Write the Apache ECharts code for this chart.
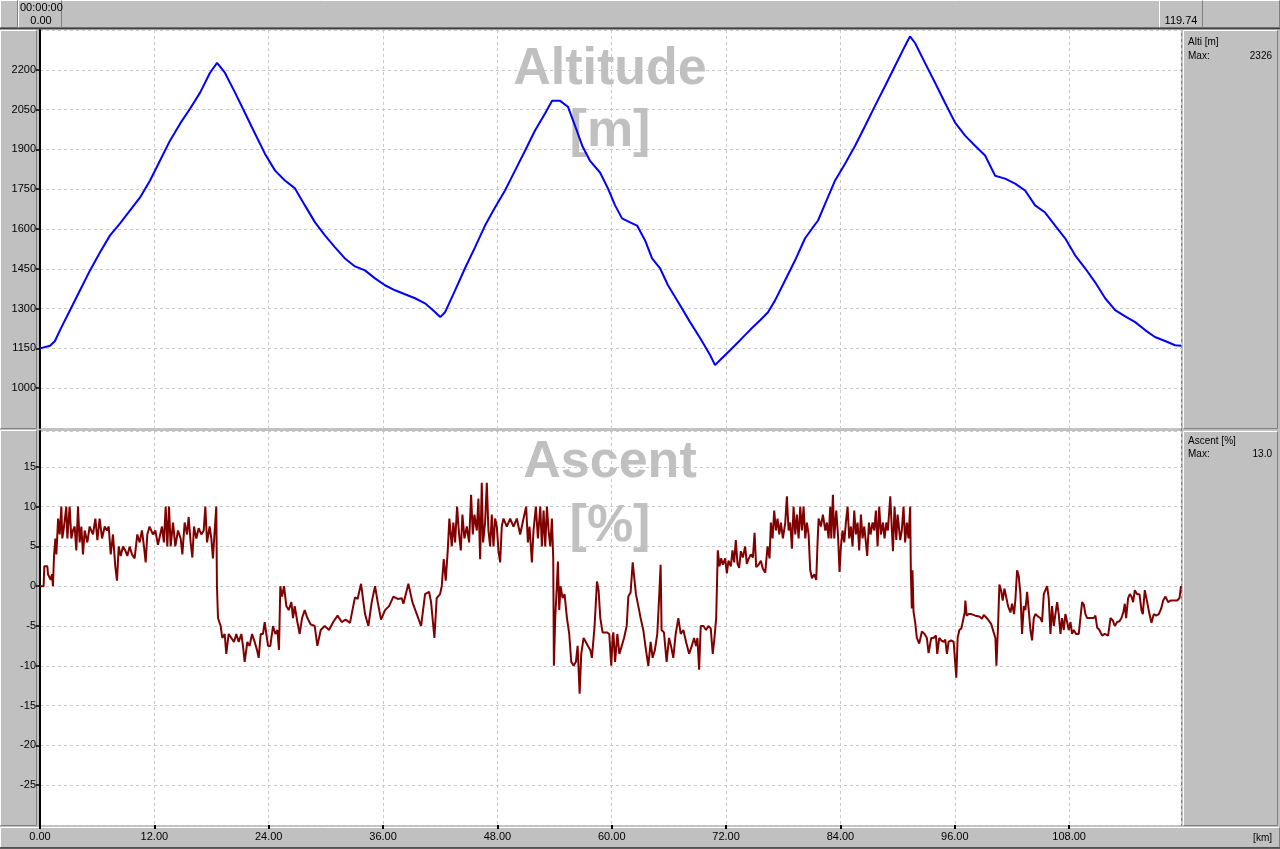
<!DOCTYPE html>
<html><head><meta charset="utf-8">
<script src="https://cdn.jsdelivr.net/npm/echarts/dist/echarts.min.js"></script>
<style>html,body{margin:0;padding:0;background:#c0c0c0;overflow:hidden}#chart{width:1280px;height:849px}</style>
</head><body><div id="chart"></div>
<script>
// ---- data (distance km, value) ----
const altitudePoints = [
[0,1150],[1.05,1160],[1.57,1178],[2.1,1219],[3.15,1294],[4.2,1369],[5.25,1444],[6.3,1512],[7.35,1576],[8.4,1621],[9.45,1670],[10.5,1719],[11.55,1783],[12.6,1858],[13.64,1933],[14.7,1997],[15.74,2053],[16.8,2114],[17.84,2189],[18.58,2226],[19.4,2189],[20.47,2114],[21.5,2038],[22.57,1959],[23.6,1884],[24.67,1820],[25.7,1783],[26.76,1753],[27.8,1689],[28.86,1625],[29.9,1576],[30.96,1531],[32.0,1489],[33.06,1459],[34.1,1444],[35.16,1414],[36.2,1388],[37.26,1369],[38.3,1354],[39.36,1339],[40.4,1320],[41.25,1294],[42.0,1268],[42.5,1286],[43.56,1369],[44.6,1452],[45.65,1531],[46.7,1613],[47.75,1681],[48.8,1745],[49.85,1820],[50.9,1895],[51.95,1971],[53.0,2035],[53.74,2083],[54.58,2083],[55.4,2061],[56.15,1989],[56.9,1914],[57.7,1858],[58.77,1813],[59.6,1753],[60.35,1689],[61.08,1640],[61.92,1625],[62.66,1613],[63.5,1557],[64.23,1489],[65.07,1452],[65.9,1388],[67.17,1313],[68.22,1249],[69.27,1189],[70.32,1125],[70.84,1087],[71.37,1106],[72.42,1143],[73.47,1181],[74.5,1219],[75.57,1256],[76.4,1286],[77.14,1331],[78.2,1407],[79.24,1482],[80.29,1565],[81.03,1602],[81.65,1632],[82.4,1696],[83.44,1783],[84.5,1847],[85.54,1914],[86.6,1989],[87.64,2065],[88.7,2140],[89.74,2215],[90.78,2290],[91.3,2326],[91.83,2301],[92.87,2226],[93.93,2151],[94.97,2076],[96.03,2001],[97.08,1952],[98.13,1914],[99.18,1877],[100.23,1801],[101.28,1790],[102.33,1771],[103.38,1745],[104.43,1689],[105.48,1662],[106.53,1613],[107.58,1565],[108.63,1501],[109.68,1452],[110.73,1399],[111.78,1339],[112.83,1294],[113.88,1271],[114.93,1249],[115.97,1219],[117.0,1193],[118.07,1178],[119.12,1162],[119.74,1160]
];
const ascentPoints = [
[0,0],[0.38,0],[0.45,2.5],[0.77,2.5],[0.84,1.5],[1.0,1.6],[1.12,0.8],[1.26,1.5],[1.36,0],[1.47,3.8],[1.61,6],[1.72,4],[1.9,8.5],[2.07,6.5],[2.24,10],[2.34,6],[2.52,7.5],[2.76,10],[2.87,6],[3.11,10],[3.29,6],[3.46,7],[3.64,7.5],[3.81,4.5],[3.99,10],[4.16,5.5],[4.34,7.5],[4.51,4],[4.69,7],[4.97,5.5],[5.21,7.5],[5.56,6.5],[5.81,8.5],[6.02,5.8],[6.26,8.5],[6.51,6],[6.79,7.5],[7.03,7],[7.21,7.5],[7.42,4],[7.66,6.5],[7.9,2.5],[8.08,0.7],[8.26,5],[8.47,3.8],[8.71,5],[8.95,4.5],[9.16,3.8],[9.41,5],[9.65,4],[9.93,3.5],[10.21,6.5],[10.46,5.5],[10.7,7],[10.91,5],[11.09,3],[11.26,6.5],[11.5,7.5],[11.85,6.5],[12.1,7],[12.38,5.2],[12.56,5],[12.8,7.5],[13.0,5.5],[13.19,10],[13.36,5],[13.54,10],[13.71,5],[13.96,8],[14.2,5],[14.48,7],[14.76,6],[14.94,4],[15.18,8],[15.43,6.5],[15.6,8.7],[15.81,5.5],[15.99,3.6],[16.16,7.5],[16.41,6],[16.65,7.3],[16.93,6.5],[17.18,7],[17.35,10],[17.53,5.5],[17.8,7.5],[17.98,6],[18.15,3.5],[18.33,7],[18.5,10],[18.57,0],[18.68,-4],[18.96,-5],[19.13,-6.5],[19.38,-6],[19.55,-8.5],[19.8,-6],[20.08,-6.5],[20.36,-7],[20.6,-6],[20.85,-7],[21.13,-6],[21.3,-7.5],[21.48,-9.5],[21.76,-7],[22.0,-7.5],[22.25,-6],[22.53,-7],[22.77,-8],[22.95,-9],[23.16,-6],[23.4,-6],[23.58,-4.5],[23.75,-6],[23.93,-7.5],[24.17,-7.5],[24.45,-5],[24.7,-6],[24.91,-5.5],[25.08,-8],[25.22,0],[25.4,-1.3],[25.61,0],[25.85,-2.5],[26.1,-3],[26.38,-2],[26.55,-4],[26.73,-2.5],[27.01,-4.5],[27.25,-6],[27.5,-4],[27.78,-3],[28.06,-4],[28.41,-4.8],[28.83,-5],[29.11,-7.5],[29.46,-5.5],[29.88,-5],[30.33,-5.5],[30.77,-4.5],[31.23,-3.7],[31.66,-4.5],[32.08,-4.2],[32.53,-4.6],[33.05,-1.4],[33.33,-1.6],[33.69,0.3],[34.11,-3.5],[34.46,-5],[34.81,-2],[35.16,0],[35.44,-2],[35.79,-4.2],[36.21,-3],[36.63,-2.5],[37.09,-1.3],[37.54,-1.6],[37.96,-1.5],[38.14,-2.2],[38.66,0.3],[39.08,-2],[39.54,-3.5],[39.99,-5],[40.41,-1],[40.83,-0.7],[41.04,-2],[41.39,-6.5],[41.63,-1.5],[41.98,-1],[42.16,0],[42.37,3.4],[42.58,0.7],[42.79,4.5],[42.96,8.5],[43.21,5],[43.38,8],[43.56,5.5],[43.77,10],[43.98,6.5],[44.16,4.5],[44.33,9],[44.54,6],[44.79,7.5],[45.03,5.5],[45.24,11.5],[45.42,6.5],[45.59,9],[45.84,7],[46.01,11],[46.19,3.4],[46.36,13],[46.5,5.5],[46.71,8],[46.89,13],[47.06,7],[47.24,5],[47.41,9],[47.59,5],[47.76,8.5],[47.94,7.5],[48.11,4.5],[48.29,3],[48.46,7.5],[48.64,8.5],[48.99,7.5],[49.34,8.5],[49.69,7.5],[50.04,8.5],[50.39,6.5],[50.74,8.5],[51.02,10],[51.2,5.5],[51.37,7.5],[51.62,3],[51.79,7],[52.04,10],[52.25,6],[52.5,10],[52.67,5],[52.85,9.5],[53.02,5],[53.2,10],[53.37,7],[53.55,5],[53.72,8.5],[53.86,3.5],[53.93,-10],[54.07,-4],[54.25,0.3],[54.35,3.1],[54.49,-3],[54.63,0],[54.84,-1.5],[55.05,-1],[55.3,-4],[55.54,-6],[55.75,-9.5],[56.0,-10],[56.24,-9.5],[56.42,-7.5],[56.63,-13.5],[56.8,-8.5],[57.05,-6.5],[57.22,-6.5],[57.5,-7.5],[57.75,-8],[57.92,-9],[58.2,-5],[58.45,0.6],[58.62,-0.5],[58.8,-4],[59.04,-5.8],[59.5,-5.8],[59.74,-6],[59.95,-10],[60.09,-6.5],[60.17,-5.8],[60.35,-9.5],[60.59,-6],[60.8,-8.5],[61.05,-7.5],[61.29,-6.5],[61.57,-5],[61.74,-1.3],[61.98,-0.8],[62.2,3],[62.33,3.2],[62.54,-1],[62.79,-2.5],[63.03,-4],[63.31,-5.5],[63.59,-8],[63.84,-10],[64.08,-7],[64.29,-9],[64.53,-8],[64.78,-6],[64.99,-1],[65.13,2.7],[65.23,-5.5],[65.48,-5.8],[65.76,-9.5],[66.01,-6.5],[66.22,-7.5],[66.46,-9],[66.71,-6],[66.99,-4],[67.24,-6],[67.52,-5.5],[67.8,-7],[68.12,-8.5],[68.4,-7.5],[68.64,-6.5],[68.85,-7.5],[68.99,-6.5],[69.17,-10.5],[69.34,-5],[69.62,-5],[69.9,-5.5],[70.15,-5],[70.39,-5.3],[70.6,-8.5],[70.78,-6.5],[70.96,-4],[71.03,-0.5],[71.13,4.5],[71.31,2.5],[71.48,3.5],[71.66,2.7],[71.9,3.5],[72.08,1.6],[72.25,3.2],[72.5,2.5],[72.67,4.5],[72.85,3],[73.02,5.8],[73.2,2.8],[73.37,2.3],[73.55,4.4],[73.76,3.6],[74.0,5],[74.18,2.8],[74.35,3.4],[74.6,4],[74.81,3.6],[74.99,6.7],[75.16,2.4],[75.41,2.7],[75.65,3.2],[75.86,2.2],[76.11,1.7],[76.35,5],[76.56,3.5],[76.7,8],[76.88,6],[77.05,9.5],[77.23,7],[77.4,8.5],[77.58,6.5],[77.75,8],[77.96,6],[78.21,8],[78.38,11.3],[78.56,7],[78.73,8],[78.91,4.7],[79.08,10],[79.26,6.5],[79.43,9],[79.61,6],[79.78,10],[79.96,7],[80.13,10],[80.31,6],[80.48,8],[80.66,6.5],[80.83,2],[81.01,1],[81.25,1.5],[81.46,0.8],[81.6,5.5],[81.71,8.5],[81.95,7.5],[82.16,9],[82.41,7],[82.58,8],[82.76,6],[82.93,10],[83.04,6],[83.21,11.5],[83.35,6],[83.56,9.5],[83.74,6.5],[83.91,1.8],[84.05,5],[84.22,7],[84.4,5.5],[84.57,8],[84.75,10],[84.92,6],[85.1,7.5],[85.27,5],[85.45,9.5],[85.62,6.5],[85.8,8],[85.97,4.5],[86.15,9],[86.32,6],[86.5,7.5],[86.67,5.5],[86.81,3.8],[86.99,8],[87.16,6.5],[87.37,8],[87.55,7],[87.72,9.5],[87.9,5],[88.07,10],[88.25,6.5],[88.46,8],[88.63,6],[88.81,8],[88.98,7],[89.23,11.3],[89.4,7],[89.51,4.4],[89.68,10],[89.86,5.8],[90.0,9],[90.09,8],[90.27,5.8],[90.44,7],[90.62,10],[90.79,5.5],[90.97,8],[91.14,6],[91.32,10],[91.39,1.8],[91.49,-2.8],[91.56,2],[91.67,-3.2],[91.84,-4.5],[92.02,-6.5],[92.27,-7.2],[92.55,-5.7],[92.83,-6],[93.07,-6.5],[93.25,-8.4],[93.53,-6.5],[93.77,-6.5],[94.02,-6.2],[94.16,-8.5],[94.37,-6.5],[94.58,-6.8],[94.83,-7],[95.0,-6.7],[95.18,-8.5],[95.35,-7],[95.63,-6.8],[95.88,-7],[96.05,-7],[96.16,-11.5],[96.3,-6.5],[96.48,-5.5],[96.69,-5.3],[96.86,-5.5],[97.04,-3.3],[97.11,-1.8],[97.25,-3.7],[97.46,-3.5],[97.74,-3.5],[98.16,-3.7],[98.58,-3.8],[98.86,-4.1],[99.04,-3.6],[99.28,-3.9],[99.56,-4.3],[99.84,-4.8],[100.08,-5.8],[100.26,-6.5],[100.37,-10],[100.54,-5],[100.68,0.2],[100.86,-0.5],[101.03,-1.8],[101.21,-0.3],[101.42,-1.5],[101.59,-2.5],[101.84,-3.3],[102.01,-2.2],[102.22,-3.5],[102.36,-1.7],[102.54,2],[102.71,1.3],[102.89,-1],[103.06,-6],[103.24,-2.5],[103.41,-3],[103.59,-0.7],[103.76,-3],[103.94,-5.5],[104.11,-6.8],[104.29,-4],[104.46,-3.5],[104.74,-3.8],[104.99,-4],[105.16,-4.5],[105.34,-1],[105.51,-0.5],[105.69,0],[105.86,-1.5],[106.04,-6],[106.21,-2.5],[106.39,-5],[106.56,-3.5],[106.74,-2],[106.91,-3.5],[107.09,-6],[107.26,-4],[107.44,-5.5],[107.61,-3.5],[107.79,-4.5],[107.96,-5.5],[108.14,-4.5],[108.31,-6],[108.49,-5.5],[108.73,-6],[109.01,-6],[109.19,-6.2],[109.36,-2],[109.54,-2.3],[109.71,-3.5],[109.89,-4],[110.24,-4],[110.59,-4],[110.76,-3.7],[110.94,-5.2],[111.18,-5.5],[111.46,-6.2],[111.74,-6],[112.09,-6.2],[112.34,-4],[112.58,-4.3],[112.79,-5],[113.04,-4.5],[113.28,-4.4],[113.49,-4],[113.7,-3.2],[113.84,-2.2],[113.98,-4],[114.19,-1.5],[114.37,-1],[114.54,-1.3],[114.72,-2],[114.89,-0.5],[115.14,-1],[115.38,-1],[115.59,-3],[115.73,-3.5],[115.94,-0.5],[116.19,-2],[116.43,-3.5],[116.64,-4.6],[116.89,-3.5],[117.13,-3.7],[117.41,-3.5],[117.66,-2.8],[117.87,-1.8],[118.11,-1.3],[118.39,-2],[118.64,-1.8],[118.99,-1.8],[119.34,-1.8],[119.58,-1.5],[119.74,0]
];
const totalKm = 119.74;
const kmTickStep = 12;
const altTickStep = 150;
const ascTickStep = 5;
const altiMaxText = '2326';
const ascentMaxText = '13.0';
const startTime = '00:00:00';
const startKm = '0.00';
const endKm = '119.74';

// ---- chart ----
const FONT = '"Liberation Sans", Arial, sans-serif';
const FACE = '#c0c0c0', LIGHT = '#ffffff', SHADOW = '#808080', DARK = '#404040';

function bevel(x, y, w, h, sunken) {
  const tl = sunken ? SHADOW : LIGHT, br = sunken ? LIGHT : SHADOW;
  return [
    {type:'rect', shape:{x:x,y:y,width:w,height:h}, style:{fill:FACE}, silent:true, z:0},
    {type:'line', shape:{x1:x+0.5,y1:y+0.5,x2:x+w-0.5,y2:y+0.5}, style:{stroke:tl,lineWidth:1}, silent:true, z:0},
    {type:'line', shape:{x1:x+0.5,y1:y+0.5,x2:x+0.5,y2:y+h-0.5}, style:{stroke:tl,lineWidth:1}, silent:true, z:0},
    {type:'line', shape:{x1:x+0.5,y1:y+h-0.5,x2:x+w-0.5,y2:y+h-0.5}, style:{stroke:br,lineWidth:1}, silent:true, z:0},
    {type:'line', shape:{x1:x+w-0.5,y1:y+0.5,x2:x+w-0.5,y2:y+h-0.5}, style:{stroke:br,lineWidth:1}, silent:true, z:0}
  ];
}
function txt(x, y, s, opts) {
  return Object.assign({type:'text', x:x, y:y, silent:true, z:5,
    style:Object.assign({text:s, fill:'#000', font:'11px ' + FONT, textAlign:'left', textVerticalAlign:'middle'}, opts || {})});
}
function wm(x, y, s) {
  return {type:'text', x:x, y:y, silent:true, z:1,
    style:{text:s, fill:'#c0c0c0', font:'bold 52px ' + FONT, textAlign:'center', textVerticalAlign:'middle'}};
}

const graphics = [].concat(
  // top bar
  bevel(0, 0, 1280, 28, false),
  bevel(0, 0, 18, 28, false),
  bevel(18, 0, 44, 28, false),
  bevel(1159, 0, 44, 28, false),
  [{type:'line', shape:{x1:0,y1:28.5,x2:1280,y2:28.5}, style:{stroke:DARK,lineWidth:1.5}, silent:true, z:0}],
  [txt(20, 8, startTime), txt(41, 21, startKm, {textAlign:'center'}), txt(1181, 21, endKm, {textAlign:'center'})],
  // left strip
  bevel(0, 30, 37, 399, false),
  bevel(0, 430, 37, 396, false),
  // right panels
  bevel(1183, 30, 95, 399, false),
  bevel(1183, 431, 95, 395, false),
  [{type:'line', shape:{x1:1181.5,y1:30,x2:1181.5,y2:826}, style:{stroke:SHADOW,lineWidth:1}, silent:true, z:0}],
  [txt(1188, 42, 'Alti [m]', {font:'10px ' + FONT}), txt(1188, 56, 'Max:', {font:'10px ' + FONT}),
   txt(1272, 56, altiMaxText, {font:'10px ' + FONT, textAlign:'right'}),
   txt(1188, 441, 'Ascent [%]', {font:'10px ' + FONT}), txt(1188, 454, 'Max:', {font:'10px ' + FONT}),
   txt(1272, 454, ascentMaxText, {font:'10px ' + FONT, textAlign:'right'})],
  // bottom strip
  bevel(0, 827, 1280, 21, false),
  [{type:'line', shape:{x1:0,y1:848,x2:1280,y2:848}, style:{stroke:DARK,lineWidth:1.5}, silent:true, z:0}],
  [txt(1272, 838, '[km]', {textAlign:'right', font:'10px ' + FONT})],
  // watermarks
  [wm(610, 70, 'Altitude'), wm(610, 132, '[m]'), wm(610, 463, 'Ascent'), wm(610, 527, '[%]')]
);

const splitStyle = {show:true, lineStyle:{color:'#c8c8c8', type:[3,3], width:1}};
const labelStyle = {color:'#000', fontSize:11, fontFamily:FONT};

const option = {
  animation:false,
  backgroundColor:'#c0c0c0',
  graphic:{elements:graphics},
  grid:[
    {left:40, top:30, width:1141, height:398, show:true, backgroundColor:'#fff', borderWidth:0},
    {left:40, top:431, width:1141, height:394, show:true, backgroundColor:'#fff', borderWidth:0}
  ],
  xAxis:[
    {type:'value', gridIndex:0, min:0, max:totalKm, interval:kmTickStep,
     axisLine:{show:false, onZero:false}, axisTick:{show:false}, axisLabel:{show:false}, splitLine:splitStyle},
    {type:'value', gridIndex:1, min:0, max:totalKm, interval:kmTickStep,
     axisLine:{show:false, onZero:false},
     axisTick:{show:true, inside:false, length:4, lineStyle:{color:'#000', width:2}},
     axisLabel:Object.assign({showMaxLabel:false, margin:6, formatter:v => v.toFixed(2)}, labelStyle),
     splitLine:splitStyle}
  ],
  yAxis:[
    {type:'value', gridIndex:0, min:850, max:2350, interval:altTickStep,
     axisLine:{show:true, onZero:false, lineStyle:{color:'#000', width:2}},
     axisTick:{show:true, length:4, lineStyle:{color:'#000', width:1.5}},
     axisLabel:Object.assign({showMinLabel:false, showMaxLabel:false, margin:4, formatter:v => String(v)}, labelStyle),
     splitLine:splitStyle},
    {type:'value', gridIndex:1, min:-30, max:19.5, interval:ascTickStep,
     axisLine:{show:true, onZero:false, lineStyle:{color:'#000', width:2}},
     axisTick:{show:true, length:4, lineStyle:{color:'#000', width:1.5}},
     axisLabel:Object.assign({showMinLabel:false, showMaxLabel:false, margin:4, formatter:v => String(v)}, labelStyle),
     splitLine:splitStyle}
  ],
  series:[
    {type:'line', xAxisIndex:0, yAxisIndex:0, data:altitudePoints, showSymbol:false, symbol:'none',
     lineStyle:{color:'#0000ff', width:2}, z:3},
    {type:'line', xAxisIndex:1, yAxisIndex:1, data:ascentPoints, showSymbol:false, symbol:'none',
     lineStyle:{color:'#800000', width:2}, z:3}
  ]
};
const chart = echarts.init(document.getElementById('chart'), null, {renderer:'canvas'});
chart.setOption(option);
</script>
</body></html>
